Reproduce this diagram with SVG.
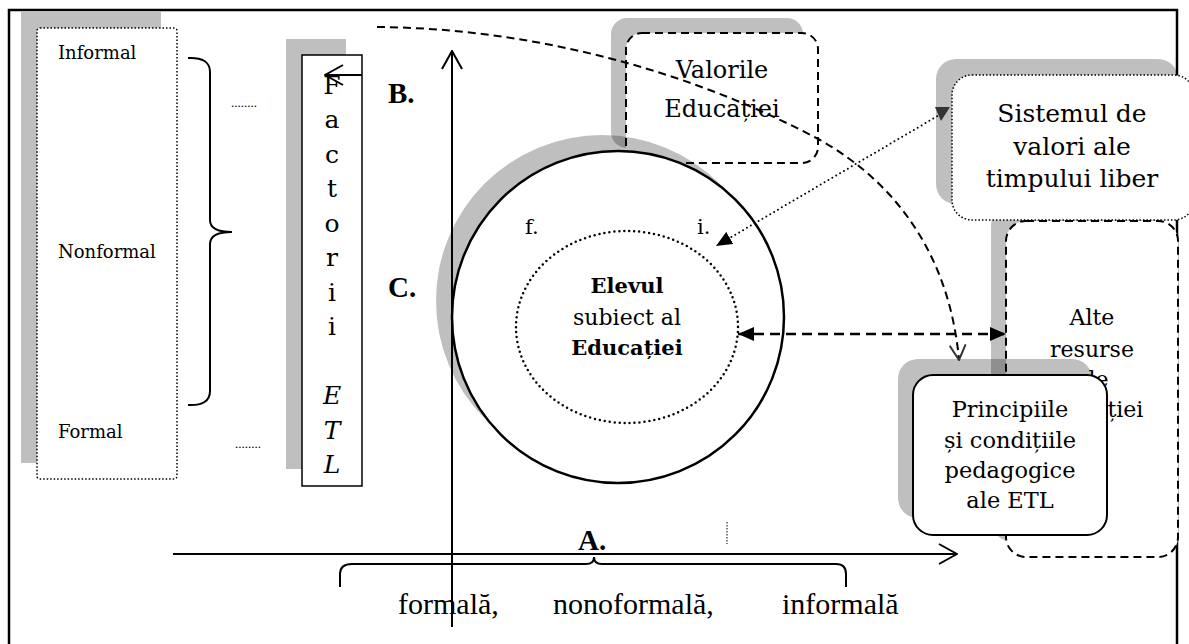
<svg xmlns="http://www.w3.org/2000/svg" width="1189" height="644" viewBox="0 0 1189 644">
<defs>
<style>
.shadow{fill:#000;fill-opacity:0.25}
.cam{font-family:"DejaVu Serif","Liberation Serif",serif;fill:#000}
.tnr{font-family:"Liberation Serif","Times New Roman",serif;fill:#000}
.c{text-anchor:middle}
.ln{fill:none;stroke:#000;stroke-width:2}
.box{fill:#fff;stroke:#000}
.dash{stroke-dasharray:8 5}
.dot{stroke-dasharray:1.5 2}
</style>
<marker id="open" viewBox="0 0 20 22" refX="19" refY="11" markerWidth="20" markerHeight="22" markerUnits="userSpaceOnUse" orient="auto">
<path d="M1,1 L19,11 L1,21" fill="none" stroke="#000" stroke-width="2"/>
</marker>
<marker id="openSm" viewBox="0 0 17 18" refX="16" refY="9" markerWidth="17" markerHeight="18" markerUnits="userSpaceOnUse" orient="auto">
<path d="M1,1 L16,9 L1,17" fill="none" stroke="#333" stroke-width="2"/>
</marker>
<marker id="tri" viewBox="0 0 16 14" refX="16" refY="7" markerWidth="16" markerHeight="14" markerUnits="userSpaceOnUse" orient="auto-start-reverse">
<path d="M0,0 L16,7 L0,14 z" fill="#000"/>
</marker>
</defs>

<rect width="1189" height="644" fill="#fff"/>
<!-- outer frame -->
<rect id="frame" x="9" y="10" width="1168" height="700" fill="#fff" stroke="#000" stroke-width="2.5"/>

<!-- forms column -->
<g id="forms">
<rect class="shadow" x="21" y="12" width="140" height="451"/>
<rect class="box dot" x="37" y="28" width="140" height="451" rx="3" stroke-width="1.5"/>
<text class="cam" x="58" y="59" font-size="18">Informal</text>
<text class="cam" x="58" y="258" font-size="18">Nonformal</text>
<text class="cam" x="58" y="438" font-size="18">Formal</text>
</g>

<g id="brace-left">
<path class="ln" d="M188,58 Q210,57 210,72 L210,220 Q210,232 232,232 Q210,232 210,244 L210,391 Q210,406 188,405"/>
</g>

<g id="ellipsis">
<text class="tnr" x="231" y="107" font-size="13">........</text>
<text class="tnr" x="235" y="448" font-size="13">........</text>
</g>

<!-- factors column -->
<g id="factorii">
<rect class="shadow" x="286" y="39" width="60" height="430"/>
<rect class="box" x="302" y="55" width="60" height="431" stroke-width="1.5"/>
<g class="cam c" font-size="25">
<text x="332" y="94">F</text>
<text x="332" y="128">a</text>
<text x="332" y="163">c</text>
<text x="332" y="197">t</text>
<text x="332" y="232">o</text>
<text x="332" y="266">r</text>
<text x="332" y="301">i</text>
<text x="332" y="335">i</text>
<text x="332" y="404" font-style="italic">E</text>
<text x="332" y="439" font-style="italic">T</text>
<text x="332" y="473" font-style="italic">L</text>
</g>
</g>

<g id="labels" class="tnr" font-weight="bold" font-size="29">
<text x="388" y="103">B.</text>
<text x="388" y="297">C.</text>
<text x="578" y="550">A.</text>
</g>

<!-- values of education -->
<g id="valorile">
<rect class="shadow" x="611" y="18" width="192" height="130" rx="16"/>
<rect class="box dash" x="626" y="33" width="192" height="130" rx="16" stroke-width="2"/>
<text class="cam c" x="722" y="78" font-size="24">Valorile</text>
<text class="cam c" x="722" y="117" font-size="24">Educației</text>
</g>

<!-- the pupil -->
<g id="elevul">
<circle class="shadow" cx="602" cy="301" r="166"/>
<circle cx="618" cy="317" r="166" fill="#fff" stroke="#000" stroke-width="2.5"/>
<ellipse cx="627" cy="327" rx="111" ry="96" fill="none" stroke="#000" stroke-width="2.5" stroke-dasharray="0 5" stroke-linecap="round"/>
<text class="cam" x="525" y="234" font-size="21">f.</text>
<text class="cam" x="697" y="234" font-size="21">i.</text>
<text class="cam c" x="627" y="293" font-size="21" font-weight="bold">Elevul</text>
<text class="cam c" x="627" y="325" font-size="22">subiect al</text>
<text class="cam c" x="627" y="355" font-size="21" font-weight="bold">Educației</text>
</g>

<!-- other resources -->
<g id="alte-resurse">
<rect class="shadow" x="991" y="205" width="172" height="336" rx="20"/>
<rect class="box dash" x="1006" y="221" width="172" height="336" rx="20" stroke-width="2"/>
<g class="cam c" font-size="22">
<text x="1092" y="325">Alte</text>
<text x="1092" y="357">resurse</text>
<text x="1092" y="387">ale</text>
<text x="1092" y="417">educației</text>
</g>
</g>

<!-- leisure value system -->
<g id="sistemul">
<rect class="shadow" x="936" y="59" width="242" height="145" rx="20"/>
<rect class="box dot" x="952" y="75" width="242" height="145" rx="20" stroke-width="1.5"/>
<g class="cam c" font-size="25">
<text x="1072" y="122">Sistemul de</text>
<text x="1072" y="155">valori ale</text>
<text x="1072" y="187">timpului liber</text>
</g>
</g>

<!-- pedagogical principles -->
<g id="principiile">
<rect class="shadow" x="898" y="359" width="194" height="159" rx="20"/>
<rect class="box" x="913" y="375" width="194" height="160" rx="20" stroke-width="2"/>
<g class="cam c" font-size="22.5">
<text x="1010" y="417">Principiile</text>
<text x="1010" y="448">și condițiile</text>
<text x="1010" y="478">pedagogice</text>
<text x="1010" y="508">ale ETL</text>
</g>
</g>

<!-- axes and connectors -->
<g id="connectors">
<line class="ln" x1="452" y1="627" x2="452" y2="51" marker-end="url(#open)"/>
<line class="ln" x1="173" y1="554" x2="957" y2="554" marker-end="url(#open)"/>
<line class="ln" x1="362" y1="75" x2="325" y2="75" marker-end="url(#open)"/>
<line x1="727" y1="522" x2="727" y2="544" stroke="#000" stroke-width="1" stroke-dasharray="1.5 1.5"/>
<path class="ln" d="M340,587 L340,574 Q340,564 352,564 L586,564 Q594,564 594,557 Q594,564 602,564 L836,564 Q846,564 846,574 L846,587"/>
<path class="ln dash" d="M377,27 C520,28 680,65 820,140 C900,185 950,260 959,360" marker-end="url(#openSm)"/>
<line x1="941" y1="114" x2="716" y2="246" stroke="#000" stroke-width="2" stroke-dasharray="0 4.5" stroke-linecap="round" marker-end="url(#tri)"/>
<polygon points="935,107 950,107 941,121" fill="#333"/>
<line x1="738" y1="334" x2="1006" y2="334" stroke="#000" stroke-width="2.5" stroke-dasharray="10 6" marker-start="url(#tri)" marker-end="url(#tri)"/>
</g>

<g id="axis-labels" class="tnr" font-size="30">
<text x="398" y="614">formală,</text>
<text x="553" y="614">nonoformală,</text>
<text x="782" y="614">informală</text>
</g>
</svg>
